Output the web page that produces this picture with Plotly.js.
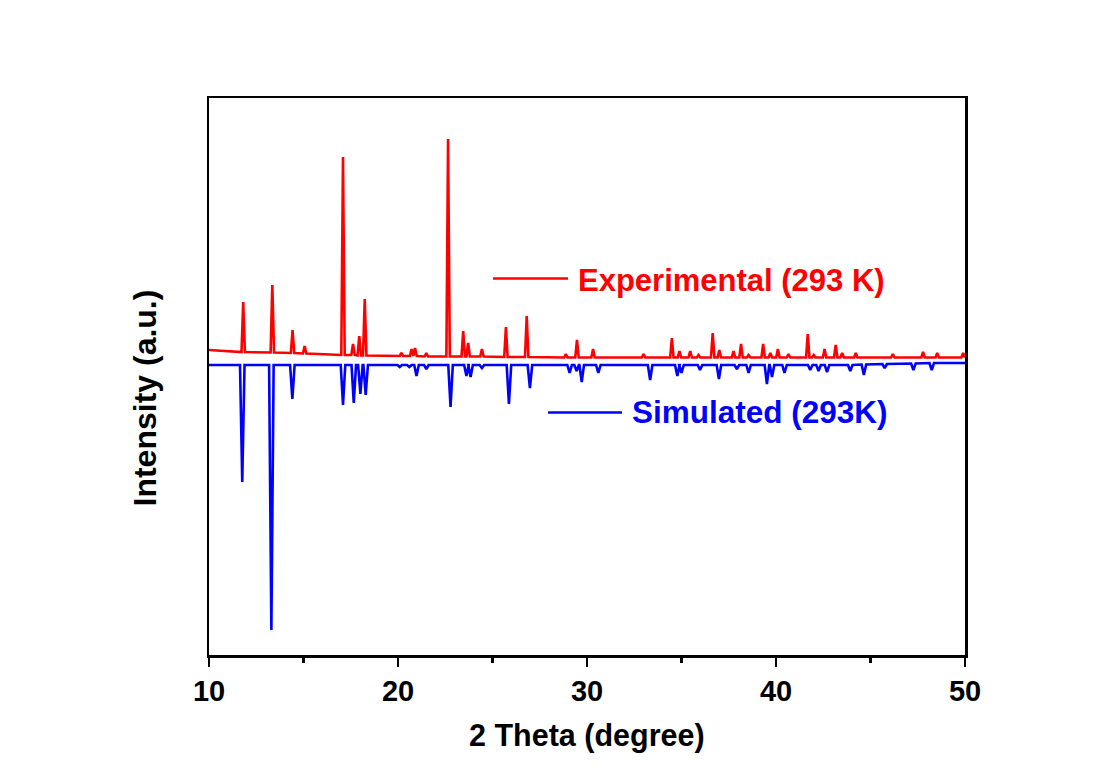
<!DOCTYPE html>
<html>
<head>
<meta charset="utf-8">
<script src="https://cdn.plot.ly/plotly-3.0.1.min.js"></script>
<style>
  html, body { margin: 0; padding: 0; background: #ffffff; }
  #chart { width: 1105px; height: 771px; }
</style>
</head>
<body>
<div id="chart"></div>
<script>
// ---- Data (2θ in degrees, intensity in arbitrary units) ----
// Experimental (293 K): peak positions, apex intensity, local baseline
const expPos  = [11.81, 13.35, 14.42, 15.06, 17.09, 17.62, 17.95, 18.24, 20.18, 20.72, 20.90, 21.50,
                 22.65, 23.45, 23.71, 24.44, 25.71, 26.81, 28.88, 29.47, 30.32, 32.99, 34.49, 34.89,
                 35.46, 35.90, 36.65, 37.00, 37.75, 38.15, 38.55, 39.32, 39.70, 40.10, 40.66, 41.68,
                 42.00, 42.57, 43.16, 43.50, 44.22, 46.18, 47.78, 48.53, 49.90];
const expTop  = [353, 370, 325, 309, 498, 311, 319, 356, 302, 306, 307, 302,
                 516, 324, 312, 306, 328, 339, 301, 315, 306, 301, 317, 304,
                 304, 300, 322, 305, 304, 311, 300, 311, 302, 306, 301, 321,
                 300, 306, 310, 302, 302, 301, 303, 302, 302];
const expBase = [303, 302.5, 302, 301.5, 300, 300, 299.5, 299.5, 299, 299, 299, 298.5,
                 298.5, 298.5, 298.5, 298.5, 298, 298, 297.5, 297.5, 297.5, 297.5, 297.5, 297.5,
                 297.5, 297.5, 297.5, 297.5, 297.5, 297.5, 297.5, 297.5, 297.5, 297.5, 297.5, 297.5,
                 297.5, 297.5, 297.5, 297.5, 297.5, 297.5, 297.5, 297.5, 297.5];
const expEnds = [[10, 305], [50, 300]];

// Simulated (293K): peak positions, minimum (inverted peak) intensity, local baseline
const simPos    = [11.76, 13.30, 14.41, 17.09, 17.66, 18.01, 18.29, 20.09, 20.60, 20.98, 21.50, 22.78,
                   23.62, 23.84, 24.44, 25.87, 26.98, 29.08, 29.45, 29.72, 30.60, 33.34, 34.78, 35.00,
                   35.98, 36.98, 37.93, 38.55, 39.52, 39.79, 40.45, 41.81, 42.25, 42.70, 43.93, 44.65,
                   45.75, 47.27, 48.24];
const simBottom = [173, 25, 256, 250, 252, 261, 260, 288, 288, 279, 286, 248,
                   279, 278, 287, 251, 267, 282, 284, 273, 282, 275, 279, 282,
                   285, 276, 286, 282, 271, 278, 282, 285, 284, 283, 284, 280,
                   287, 285, 285];
const simBase   = [290, 290, 290, 290, 290, 290, 290, 290, 290, 290, 290, 290,
                   290, 290, 290, 290, 290, 290, 290, 290, 290, 290, 290, 290,
                   290, 290, 290, 290, 290, 290, 290, 290, 290, 290, 290, 290.5,
                   291, 291.5, 292];
const simEnds = [[10, 290], [50, 292]];

const xTicks = [10, 20, 30, 40, 50];

// ---- Build stick-style profile vertices from the peak tables ----
function profile(pos, apex, base, ends, halfWidth) {
  const xs = [ends[0][0]], ys = [ends[0][1]];
  for (let i = 0; i < pos.length; i++) {
    xs.push(pos[i] - halfWidth, pos[i], pos[i] + halfWidth);
    ys.push(base[i], apex[i], base[i]);
  }
  xs.push(ends[1][0]); ys.push(ends[1][1]);
  return {x: xs, y: ys};
}

const exp = profile(expPos, expTop, expBase, expEnds, 0.09);
const sim = profile(simPos, simBottom, simBase, simEnds, 0.12);

const RED = '#ff0000', BLUE = '#0000ff';
const FONT = 'Liberation Sans, Arial, Helvetica, sans-serif';

const traces = [
  {x: exp.x, y: exp.y, type: 'scatter', mode: 'lines', name: 'Experimental (293 K)',
   line: {color: RED, width: 2.6}, showlegend: false, hoverinfo: 'x+y'},
  {x: sim.x, y: sim.y, type: 'scatter', mode: 'lines', name: 'Simulated (293K)',
   line: {color: BLUE, width: 2.6}, showlegend: false, hoverinfo: 'x+y'}
];

const layout = {
  width: 1105, height: 771,
  margin: {l: 209, r: 140, t: 98, b: 116, pad: 0},
  paper_bgcolor: '#ffffff', plot_bgcolor: '#ffffff',
  showlegend: false,
  font: {family: FONT, color: '#000000'},
  xaxis: {
    range: [10, 50], tickmode: 'array', tickvals: xTicks, ticktext: xTicks.map(String),
    ticks: 'outside', ticklen: 9, tickwidth: 2.5, tickcolor: '#000',
    minor: {dtick: 5, tick0: 10, ticks: 'outside', ticklen: 5, tickwidth: 2.5, tickcolor: '#000', showgrid: false},
    showline: true, linewidth: 2.5, linecolor: '#000', mirror: true,
    showgrid: false, zeroline: false,
    tickfont: {family: FONT, size: 29, weight: 'bold', color: '#000'},
    ticklabelstandoff: 0
  },
  yaxis: {
    range: [0, 557], showticklabels: false, ticks: '',
    showline: true, linewidth: 2.5, linecolor: '#000', mirror: true,
    showgrid: false, zeroline: false
  },
  shapes: [
    {type: 'line', xref: 'paper', yref: 'paper', x0: 0.3757, x1: 0.4749, y0: 0.676, y1: 0.676,
     line: {color: RED, width: 2.5}},
    {type: 'line', xref: 'paper', yref: 'paper', x0: 0.4484, x1: 0.5463, y0: 0.4354, y1: 0.4354,
     line: {color: BLUE, width: 2.5}}
  ],
  annotations: [
    {text: 'Experimental (293 K)', xref: 'paper', yref: 'paper', x: 0.486, y: 0.6715,
     xanchor: 'left', yanchor: 'middle', showarrow: false,
     font: {family: FONT, size: 31, weight: 'bold', color: RED}},
    {text: 'Simulated (293K)', xref: 'paper', yref: 'paper', x: 0.5575, y: 0.4363,
     xanchor: 'left', yanchor: 'middle', showarrow: false,
     font: {family: FONT, size: 31.5, weight: 'bold', color: BLUE}},
    {text: '2 Theta (degree)', xref: 'paper', yref: 'paper', x: 0.5, y: -0.1445,
     xanchor: 'center', yanchor: 'middle', showarrow: false,
     font: {family: FONT, size: 30.5, weight: 'bold', color: '#000'}},
    {text: 'Intensity (a.u.)', xref: 'paper', yref: 'paper', x: -0.084, y: 0.4614,
     xanchor: 'center', yanchor: 'middle', showarrow: false, textangle: -90,
     font: {family: FONT, size: 32, weight: 'bold', color: '#000'}}
  ]
};

Plotly.newPlot('chart', traces, layout, {displayModeBar: false, responsive: false, staticPlot: true});
</script>
</body>
</html>
